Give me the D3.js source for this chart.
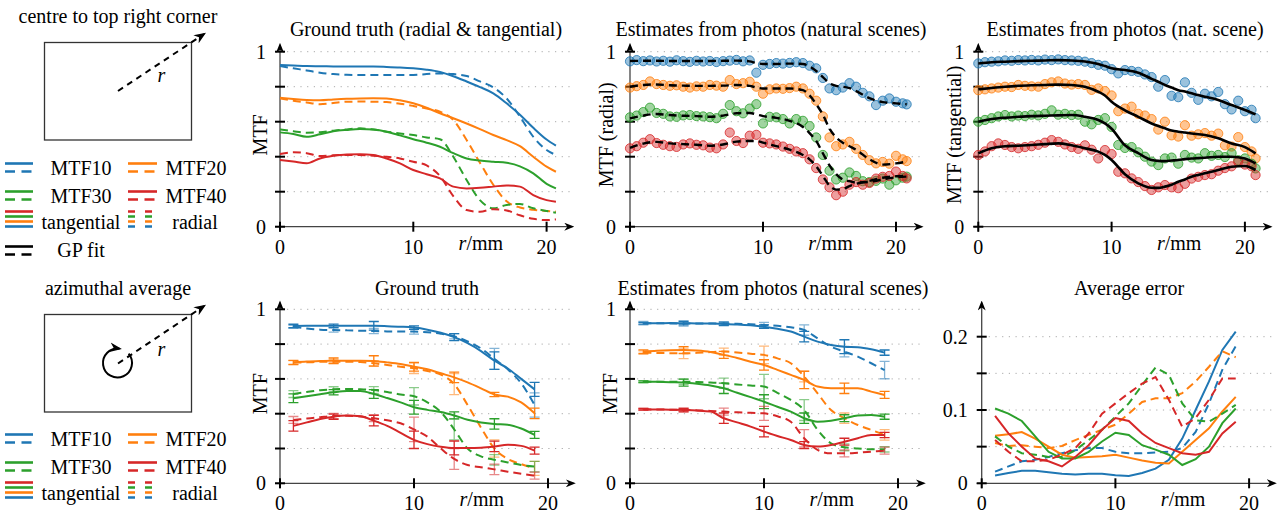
<!DOCTYPE html>
<html>
<head>
<meta charset="utf-8">
<title>MTF estimates</title>
<script src="https://cdn.jsdelivr.net/npm/d3@7"></script>
<style>
  body { margin: 0; background: #fff; }
</style>
</head>
<body>
<svg id="fig" width="1284" height="515" font-family="Liberation Serif, DejaVu Serif, serif" font-size="20"></svg>
<script>
var colours = ['#1f77b4', '#ff7f0e', '#2ca02c', '#d62728'];
var names = ['MTF10', 'MTF20', 'MTF30', 'MTF40'];
var xTicks = [0, 10, 20];

// ground truth, centre to corner
var gtR = [0,1,2,3,4,5,6,7,8,9,10,11,12,13,14,15,16,17,18,19,20,20.7];
var gtTan10 = [0.924,0.921,0.918,0.917,0.916,0.915,0.915,0.915,0.913,0.91,0.905,0.897,0.884,0.86,0.83,0.798,0.762,0.705,0.64,0.565,0.498,0.463];
var gtRad10 = [0.918,0.905,0.893,0.88,0.872,0.868,0.867,0.867,0.867,0.867,0.867,0.872,0.876,0.872,0.861,0.83,0.796,0.733,0.629,0.514,0.438,0.41];
var gtTan20 = [0.737,0.73,0.724,0.722,0.727,0.731,0.733,0.734,0.733,0.722,0.705,0.68,0.648,0.62,0.59,0.558,0.524,0.495,0.46,0.4,0.343,0.314];
var gtRad20 = [0.733,0.72,0.71,0.7,0.707,0.714,0.715,0.714,0.712,0.703,0.69,0.675,0.657,0.61,0.495,0.365,0.24,0.145,0.11,0.097,0.09,0.086];
var gtTan30 = [0.539,0.53,0.514,0.528,0.545,0.553,0.558,0.555,0.543,0.522,0.5,0.48,0.457,0.42,0.39,0.378,0.371,0.365,0.345,0.305,0.245,0.219];
var gtRad30 = [0.556,0.545,0.537,0.54,0.549,0.556,0.562,0.555,0.543,0.533,0.524,0.51,0.5,0.4,0.267,0.152,0.105,0.124,0.13,0.105,0.09,0.08];
var gtTan40 = [0.381,0.372,0.362,0.39,0.405,0.413,0.414,0.41,0.39,0.362,0.324,0.3,0.276,0.229,0.219,0.222,0.229,0.236,0.229,0.181,0.152,0.143];
var gtRad40 = [0.415,0.425,0.42,0.404,0.408,0.41,0.41,0.405,0.4,0.39,0.371,0.35,0.29,0.175,0.095,0.085,0.1,0.093,0.065,0.045,0.038,0.042];

// estimates from photos: individual estimates
var dotR = [0,0.5,1,1.5,2,2.5,3,3.5,4,4.5,5,5.5,6,6.5,7,7.5,8,8.5,9,9.5,10,10.5,11,11.5,12,12.5,13,13.5,14,14.5,15,15.5,16,16.5,17,17.5,18,18.5,19,19.5,20,20.5,20.8];
var radDots10 = [0.945,0.952,0.946,0.95,0.944,0.948,0.943,0.951,0.946,0.942,0.948,0.944,0.947,0.941,0.946,0.949,0.953,0.945,0.95,0.88,0.925,0.93,0.935,0.932,0.936,0.94,0.935,0.92,0.905,0.85,0.79,0.78,0.795,0.82,0.8,0.765,0.745,0.695,0.72,0.733,0.714,0.705,0.699];
var radDots20 = [0.795,0.803,0.81,0.83,0.815,0.81,0.805,0.808,0.8,0.795,0.802,0.8,0.81,0.806,0.8,0.838,0.815,0.82,0.828,0.8,0.76,0.785,0.79,0.788,0.792,0.8,0.79,0.76,0.72,0.63,0.51,0.46,0.47,0.485,0.445,0.41,0.38,0.362,0.37,0.36,0.405,0.385,0.375];
var radDots30 = [0.625,0.635,0.655,0.68,0.65,0.645,0.63,0.628,0.636,0.638,0.632,0.63,0.626,0.62,0.645,0.695,0.66,0.648,0.675,0.7,0.59,0.628,0.625,0.615,0.59,0.615,0.605,0.575,0.51,0.41,0.32,0.27,0.28,0.31,0.29,0.26,0.255,0.262,0.275,0.24,0.265,0.28,0.286];
var radDots40 = [0.448,0.46,0.48,0.5,0.478,0.468,0.46,0.456,0.47,0.476,0.468,0.465,0.452,0.448,0.47,0.538,0.49,0.478,0.52,0.525,0.48,0.476,0.47,0.458,0.445,0.43,0.42,0.385,0.335,0.27,0.225,0.18,0.2,0.24,0.255,0.24,0.25,0.275,0.285,0.29,0.315,0.29,0.276];
var tanDots10 = [0.933,0.94,0.943,0.945,0.95,0.948,0.952,0.95,0.953,0.95,0.955,0.952,0.956,0.952,0.95,0.948,0.943,0.935,0.925,0.92,0.9,0.876,0.895,0.89,0.885,0.87,0.855,0.8,0.838,0.748,0.74,0.825,0.765,0.725,0.76,0.745,0.77,0.7,0.67,0.72,0.66,0.668,0.62];
var tanDots20 = [0.78,0.785,0.79,0.795,0.8,0.798,0.81,0.805,0.802,0.8,0.815,0.825,0.83,0.818,0.812,0.815,0.81,0.782,0.79,0.775,0.75,0.66,0.675,0.686,0.645,0.635,0.615,0.555,0.6,0.522,0.515,0.58,0.52,0.528,0.535,0.52,0.532,0.465,0.458,0.512,0.455,0.43,0.39];
var tanDots30 = [0.6,0.61,0.62,0.63,0.638,0.63,0.635,0.632,0.64,0.636,0.645,0.665,0.64,0.645,0.638,0.64,0.6,0.585,0.61,0.62,0.57,0.467,0.45,0.455,0.425,0.4,0.372,0.352,0.39,0.395,0.36,0.41,0.395,0.39,0.42,0.405,0.41,0.398,0.42,0.38,0.39,0.36,0.333];
var tanDots40 = [0.41,0.43,0.46,0.476,0.467,0.455,0.448,0.455,0.46,0.468,0.48,0.495,0.485,0.47,0.455,0.445,0.465,0.44,0.39,0.438,0.415,0.314,0.305,0.276,0.255,0.232,0.21,0.225,0.238,0.225,0.22,0.245,0.275,0.285,0.295,0.3,0.32,0.335,0.345,0.37,0.355,0.345,0.295];

// GP fits
var fitR = [0,1,2,3,4,5,6,7,8,9,9.5,10,11,12,13,13.5,14,14.5,15,15.5,16,16.5,17,18,19,20,20.8];
var radFit10 = [0.947,0.948,0.948,0.947,0.947,0.947,0.947,0.948,0.949,0.945,0.935,0.93,0.93,0.932,0.93,0.915,0.89,0.855,0.82,0.805,0.8,0.792,0.775,0.735,0.712,0.705,0.7];
var radFit20 = [0.8,0.81,0.813,0.808,0.806,0.805,0.805,0.806,0.81,0.805,0.795,0.79,0.79,0.79,0.78,0.75,0.7,0.64,0.56,0.51,0.48,0.46,0.44,0.385,0.355,0.362,0.372];
var radFit30 = [0.619,0.635,0.644,0.638,0.634,0.632,0.628,0.635,0.648,0.65,0.642,0.632,0.622,0.605,0.57,0.535,0.49,0.42,0.35,0.3,0.27,0.26,0.252,0.256,0.27,0.282,0.286];
var radFit40 = [0.451,0.475,0.485,0.476,0.472,0.468,0.463,0.47,0.486,0.49,0.49,0.48,0.46,0.44,0.41,0.385,0.345,0.29,0.235,0.212,0.215,0.232,0.245,0.262,0.28,0.288,0.29];
var tanFit10 = [0.933,0.94,0.943,0.946,0.948,0.95,0.952,0.95,0.944,0.93,0.918,0.905,0.895,0.88,0.845,0.828,0.81,0.795,0.78,0.772,0.762,0.752,0.743,0.724,0.695,0.667,0.642];
var tanFit20 = [0.785,0.793,0.8,0.805,0.808,0.81,0.812,0.81,0.8,0.771,0.75,0.714,0.665,0.628,0.59,0.575,0.562,0.55,0.543,0.538,0.533,0.528,0.524,0.505,0.476,0.455,0.419];
var tanFit30 = [0.6,0.615,0.623,0.628,0.632,0.634,0.636,0.638,0.628,0.61,0.59,0.56,0.465,0.42,0.381,0.376,0.375,0.378,0.381,0.386,0.39,0.392,0.394,0.4,0.4,0.39,0.362];
var tanFit40 = [0.419,0.448,0.46,0.463,0.467,0.472,0.476,0.465,0.448,0.429,0.41,0.381,0.3,0.248,0.223,0.222,0.229,0.24,0.257,0.27,0.286,0.296,0.305,0.324,0.343,0.347,0.324];

// azimuthal averages
var avgR = [1,2,3,4,5,6,7,8,9,10,11,12,13,14,15,16,17,18,19];
var errR = [1,4,7,10,13,16,19];
var avgGtTan10 = [0.904,0.905,0.905,0.905,0.905,0.905,0.905,0.903,0.9,0.895,0.883,0.865,0.84,0.805,0.76,0.705,0.66,0.6,0.54];
var avgGtRad10 = [0.9,0.89,0.883,0.881,0.879,0.877,0.875,0.873,0.872,0.872,0.868,0.86,0.845,0.815,0.775,0.715,0.655,0.575,0.45];
var avgGtTan20 = [0.695,0.7,0.703,0.705,0.705,0.705,0.703,0.695,0.685,0.67,0.655,0.632,0.609,0.58,0.546,0.51,0.498,0.465,0.402];
var avgGtRad20 = [0.693,0.695,0.698,0.699,0.699,0.697,0.69,0.68,0.67,0.661,0.645,0.625,0.57,0.45,0.32,0.2,0.14,0.11,0.086];
var avgGtTan30 = [0.489,0.5,0.512,0.523,0.53,0.53,0.513,0.49,0.465,0.437,0.422,0.41,0.39,0.365,0.35,0.341,0.337,0.315,0.278];
var avgGtRad30 = [0.513,0.525,0.535,0.54,0.542,0.54,0.536,0.525,0.51,0.5,0.465,0.41,0.31,0.2,0.155,0.135,0.12,0.105,0.096];
var avgGtTan40 = [0.33,0.35,0.37,0.383,0.389,0.385,0.36,0.33,0.29,0.25,0.225,0.21,0.203,0.203,0.205,0.212,0.222,0.215,0.188];
var avgGtRad40 = [0.364,0.372,0.38,0.387,0.388,0.384,0.374,0.362,0.345,0.31,0.268,0.2,0.14,0.105,0.092,0.08,0.067,0.055,0.044];
var avgGtTanErr10 = [0.01,0.01,0.025,0.01,0.02,0.05,0.04];
var avgGtRadErr10 = [0.008,0.012,0.015,0.015,0.015,0.06,0.07];
var avgGtTanErr20 = [0.012,0.015,0.03,0.025,0.03,0.012,0.03];
var avgGtRadErr20 = [0.012,0.012,0.015,0.03,0.06,0.05,0.04];
var avgGtTanErr30 = [0.025,0.015,0.025,0.04,0.02,0.03,0.02];
var avgGtRadErr30 = [0.02,0.015,0.02,0.05,0.06,0.03,0.03];
var avgGtTanErr40 = [0.03,0.015,0.03,0.05,0.04,0.03,0.02];
var avgGtRadErr40 = [0.02,0.015,0.02,0.07,0.06,0.03,0.02];

var avgEstTan10 = [0.92,0.92,0.921,0.92,0.919,0.918,0.916,0.913,0.908,0.9,0.888,0.872,0.843,0.814,0.795,0.785,0.782,0.77,0.751];
var avgEstRad10 = [0.92,0.92,0.919,0.918,0.918,0.918,0.918,0.917,0.914,0.91,0.905,0.897,0.881,0.833,0.785,0.757,0.728,0.69,0.651];
var avgEstTan20 = [0.757,0.762,0.765,0.766,0.763,0.755,0.738,0.72,0.699,0.68,0.652,0.623,0.594,0.556,0.546,0.546,0.546,0.527,0.508];
var avgEstRad20 = [0.751,0.749,0.748,0.747,0.75,0.754,0.757,0.752,0.745,0.738,0.718,0.69,0.613,0.517,0.421,0.374,0.335,0.307,0.278];
var avgEstTan30 = [0.584,0.583,0.581,0.579,0.572,0.562,0.546,0.52,0.495,0.469,0.44,0.412,0.374,0.354,0.36,0.374,0.389,0.393,0.383];
var avgEstRad30 = [0.584,0.584,0.584,0.584,0.582,0.579,0.575,0.568,0.562,0.556,0.52,0.479,0.421,0.307,0.23,0.207,0.2,0.195,0.195];
var avgEstTan40 = [0.425,0.424,0.423,0.421,0.418,0.412,0.374,0.35,0.326,0.297,0.272,0.249,0.22,0.211,0.22,0.239,0.259,0.278,0.278];
var avgEstRad40 = [0.425,0.424,0.423,0.422,0.419,0.416,0.412,0.408,0.405,0.402,0.385,0.354,0.259,0.192,0.172,0.172,0.176,0.182,0.188];
var avgEstTanErr10 = [0.005,0.01,0.01,0.01,0.03,0.04,0.015];
var avgEstRadErr10 = [0.01,0.015,0.01,0.015,0.03,0.03,0.05];
var avgEstTanErr20 = [0.01,0.02,0.02,0.03,0.05,0.03,0.02];
var avgEstRadErr20 = [0.01,0.03,0.02,0.05,0.03,0.03,0.03];
var avgEstTanErr30 = [0.005,0.02,0.03,0.04,0.03,0.02,0.015];
var avgEstRadErr30 = [0.005,0.015,0.03,0.07,0.06,0.02,0.015];
var avgEstTanErr40 = [0.005,0.01,0.03,0.03,0.02,0.02,0.015];
var avgEstRadErr40 = [0.005,0.01,0.02,0.04,0.05,0.02,0.02];

// average error
var errTan10 = [0.0105,0.014,0.017,0.017,0.015,0.013,0.012,0.013,0.013,0.011,0.01,0.014,0.02,0.032,0.061,0.1,0.139,0.182,0.207];
var errRad10 = [0.016,0.023,0.03,0.032,0.036,0.041,0.045,0.048,0.048,0.043,0.041,0.041,0.042,0.043,0.048,0.07,0.109,0.155,0.187];
var errTan20 = [0.065,0.067,0.07,0.061,0.05,0.039,0.035,0.036,0.037,0.039,0.035,0.031,0.028,0.027,0.043,0.059,0.075,0.098,0.118];
var errRad20 = [0.055,0.051,0.052,0.05,0.048,0.051,0.059,0.066,0.073,0.08,0.095,0.111,0.116,0.116,0.123,0.139,0.159,0.18,0.172];
var errTan30 = [0.102,0.095,0.085,0.064,0.043,0.034,0.034,0.043,0.057,0.069,0.066,0.052,0.046,0.039,0.025,0.033,0.05,0.082,0.102];
var errRad30 = [0.064,0.05,0.041,0.039,0.036,0.036,0.045,0.059,0.073,0.091,0.109,0.134,0.158,0.148,0.109,0.086,0.084,0.095,0.107];
var errTan40 = [0.092,0.068,0.05,0.034,0.03,0.023,0.036,0.052,0.073,0.089,0.085,0.068,0.055,0.048,0.041,0.039,0.043,0.068,0.084];
var errRad40 = [0.059,0.043,0.03,0.03,0.032,0.039,0.048,0.068,0.095,0.109,0.123,0.136,0.145,0.114,0.077,0.089,0.114,0.143,0.143];

var svg = d3.select('#fig');
var defs = svg.append('defs');
defs.append('marker').attr('id', 'arr').attr('viewBox', '0 0 10 8').attr('refX', 8).attr('refY', 4)
  .attr('markerWidth', 10).attr('markerHeight', 8).attr('markerUnits', 'userSpaceOnUse').attr('orient', 'auto')
  .append('path').attr('d', 'M0,0 L10,4 L0,8 L3,4 Z').attr('fill', '#000');
defs.append('marker').attr('id', 'arrBig').attr('viewBox', '0 0 10 8').attr('refX', 8).attr('refY', 4)
  .attr('markerWidth', 12).attr('markerHeight', 10).attr('markerUnits', 'userSpaceOnUse').attr('orient', 'auto')
  .append('path').attr('d', 'M0,0 L10,4 L0,8 L3,4 Z').attr('fill', '#000');

function panel(p) {
  var x = d3.scaleLinear().domain([0, 22]).range([p.left, p.left + 22 * p.k]);
  var y = d3.scaleLinear().domain([0, p.ymax]).range([p.bottom, p.top]);
  var g = svg.append('g');
  g.selectAll(null).data(p.yticks.filter(function(t){ return t > 0; })).enter().append('line')
    .attr('x1', x(0) + 7).attr('x2', x(21.8))
    .attr('y1', function(d){ return y(d); }).attr('y2', function(d){ return y(d); })
    .attr('stroke', '#aaa').attr('stroke-width', 1).attr('stroke-dasharray', '1.2,5.5');
  g.append('line').attr('x1', x(0) - 5).attr('x2', x(22) - 1).attr('y1', y(0)).attr('y2', y(0))
    .attr('stroke', '#444').attr('stroke-width', 1.3).attr('marker-end', 'url(#arr)');
  g.append('line').attr('x1', x(0)).attr('x2', x(0)).attr('y1', y(0) + 5).attr('y2', y(p.ytop) + 1)
    .attr('stroke', '#444').attr('stroke-width', 1.3).attr('marker-end', 'url(#arr)');
  g.selectAll(null).data(p.yticks).enter().append('line')
    .attr('x1', x(0) - 5).attr('x2', x(0) + 5)
    .attr('y1', function(d){ return y(d); }).attr('y2', function(d){ return y(d); })
    .attr('stroke', '#000').attr('stroke-width', 2);
  g.selectAll(null).data(xTicks).enter().append('line')
    .attr('x1', function(d){ return x(d); }).attr('x2', function(d){ return x(d); })
    .attr('y1', y(0) - 5).attr('y2', y(0) + 5)
    .attr('stroke', '#000').attr('stroke-width', 2);
  g.selectAll(null).data(p.ylabels).enter().append('text')
    .attr('x', x(0) - 14).attr('y', function(d){ return y(d) + 7; })
    .attr('text-anchor', 'end').text(p.fmt);
  g.selectAll(null).data(xTicks).enter().append('text')
    .attr('x', function(d){ return x(d); }).attr('y', y(0) + 27)
    .attr('text-anchor', 'middle').text(function(d){ return d; });
  var lab = g.append('text').attr('x', x(13.4)).attr('y', y(0) + 23);
  lab.append('tspan').attr('font-style', 'italic').text('r');
  lab.append('tspan').text('/mm');
  g.append('text').attr('x', p.titleX).attr('y', p.titleY).attr('text-anchor', 'middle').text(p.title);
  if (p.ylabel) {
    g.append('text')
      .attr('transform', 'translate(' + (x(0) - p.ylabOff) + ',' + y(p.ymax * p.ylabAt) + ') rotate(-90)')
      .attr('text-anchor', 'middle').text(p.ylabel);
  }
  return { g: g, x: x, y: y };
}

function drawLine(pl, rs, vs, colour, dashed, curve, width) {
  var line = d3.line()
    .x(function(d, i){ return pl.x(rs[i]); })
    .y(function(d){ return pl.y(d); })
    .curve(curve || d3.curveMonotoneX);
  pl.g.append('path').datum(vs).attr('d', line).attr('fill', 'none')
    .attr('stroke', colour).attr('stroke-width', width || 2)
    .attr('stroke-dasharray', dashed ? '8,5' : null);
}

function drawDots(pl, rs, vs, colour) {
  pl.g.selectAll(null).data(vs).enter().append('circle')
    .attr('cx', function(d, i){ return pl.x(rs[i]); })
    .attr('cy', function(d){ return pl.y(d); })
    .attr('r', 4.6)
    .attr('fill', colour).attr('fill-opacity', 0.45)
    .attr('stroke', colour).attr('stroke-opacity', 0.8).attr('stroke-width', 1);
}

function drawErr(pl, vs, es, colour, op) {
  pl.g.selectAll(null).data(errR).enter().append('path')
    .attr('d', function(r, i){
      var v = vs[avgR.indexOf(r)];
      var cx = pl.x(r), y1 = pl.y(v - es[i]), y2 = pl.y(v + es[i]);
      return 'M' + (cx - 5) + ',' + y1 + 'H' + (cx + 5) + 'M' + cx + ',' + y1 + 'V' + y2 + 'M' + (cx - 5) + ',' + y2 + 'H' + (cx + 5);
    })
    .attr('fill', 'none').attr('stroke', colour).attr('stroke-width', 1.3).attr('stroke-opacity', op);
}

var mtfTicks = [0, 0.2, 0.4, 0.6, 0.8, 1];
var fmt01 = function(d){ return d; };

// top row
var p1 = panel({ left: 280, k: 13.33, bottom: 226.7, top: 51.7, ymax: 1, ytop: 1.045, yticks: mtfTicks, ylabels: [0, 1], fmt: fmt01,
  title: 'Ground truth (radial & tangential)', titleX: 426, titleY: 36, ylabel: 'MTF', ylabOff: 13.5, ylabAt: 0.525 });
var p2 = panel({ left: 630, k: 13.3, bottom: 226.7, top: 51.7, ymax: 1, ytop: 1.045, yticks: mtfTicks, ylabels: [0, 1], fmt: fmt01,
  title: 'Estimates from photos (natural scenes)', titleX: 771, titleY: 36, ylabel: 'MTF (radial)', ylabOff: 17, ylabAt: 0.525 });
var p3 = panel({ left: 978.3, k: 13.33, bottom: 226.7, top: 51.7, ymax: 1, ytop: 1.045, yticks: mtfTicks, ylabels: [0, 1], fmt: fmt01,
  title: 'Estimates from photos (nat. scene)', titleX: 1125, titleY: 36, ylabel: 'MTF (tangential)', ylabOff: 17.5, ylabAt: 0.525 });
// bottom row
var p4 = panel({ left: 280, k: 13.4, bottom: 483.3, top: 309.3, ymax: 1, ytop: 1.045, yticks: mtfTicks, ylabels: [0, 1], fmt: fmt01,
  title: 'Ground truth', titleX: 427, titleY: 294.5, ylabel: 'MTF', ylabOff: 13.3, ylabAt: 0.515 });
var p5 = panel({ left: 630, k: 13.4, bottom: 483.3, top: 309.3, ymax: 1, ytop: 1.045, yticks: mtfTicks, ylabels: [0, 1], fmt: fmt01,
  title: 'Estimates from photos (natural scenes)', titleX: 773, titleY: 294.5, ylabel: 'MTF', ylabOff: 13.3, ylabAt: 0.515 });
var p6 = panel({ left: 981.7, k: 13.37, bottom: 483.3, top: 336.7, ymax: 0.2, ytop: 0.248, yticks: [0, 0.05, 0.1, 0.15, 0.2], ylabels: [0, 0.1, 0.2],
  fmt: function(d){ return d === 0 ? '0' : d.toFixed(1); },
  title: 'Average error', titleX: 1129, titleY: 294.5 });

var gtTan = [gtTan10, gtTan20, gtTan30, gtTan40], gtRad = [gtRad10, gtRad20, gtRad30, gtRad40];
var radDots = [radDots10, radDots20, radDots30, radDots40], tanDots = [tanDots10, tanDots20, tanDots30, tanDots40];
var radFit = [radFit10, radFit20, radFit30, radFit40], tanFit = [tanFit10, tanFit20, tanFit30, tanFit40];
var aGtTan = [avgGtTan10, avgGtTan20, avgGtTan30, avgGtTan40], aGtRad = [avgGtRad10, avgGtRad20, avgGtRad30, avgGtRad40];
var aGtTanE = [avgGtTanErr10, avgGtTanErr20, avgGtTanErr30, avgGtTanErr40], aGtRadE = [avgGtRadErr10, avgGtRadErr20, avgGtRadErr30, avgGtRadErr40];
var aEsTan = [avgEstTan10, avgEstTan20, avgEstTan30, avgEstTan40], aEsRad = [avgEstRad10, avgEstRad20, avgEstRad30, avgEstRad40];
var aEsTanE = [avgEstTanErr10, avgEstTanErr20, avgEstTanErr30, avgEstTanErr40], aEsRadE = [avgEstRadErr10, avgEstRadErr20, avgEstRadErr30, avgEstRadErr40];
var eTan = [errTan10, errTan20, errTan30, errTan40], eRad = [errRad10, errRad20, errRad30, errRad40];

colours.forEach(function(c, i){
  drawLine(p1, gtR, gtTan[i], c, false);
  drawLine(p1, gtR, gtRad[i], c, true);
});
colours.forEach(function(c, i){ drawDots(p2, dotR, radDots[i], c); });
colours.forEach(function(c, i){ drawLine(p2, fitR, radFit[i], '#000', true, null, 2.4); });
colours.forEach(function(c, i){ drawDots(p3, dotR, tanDots[i], c); });
colours.forEach(function(c, i){ drawLine(p3, fitR, tanFit[i], '#000', false, null, 2.6); });
colours.forEach(function(c, i){
  drawLine(p4, avgR, aGtRad[i], c, true);
  drawLine(p4, avgR, aGtTan[i], c, false);
  drawErr(p4, aGtRad[i], aGtRadE[i], c, 0.55);
  drawErr(p4, aGtTan[i], aGtTanE[i], c, 1);
  drawLine(p5, avgR, aEsRad[i], c, true);
  drawLine(p5, avgR, aEsTan[i], c, false);
  drawErr(p5, aEsRad[i], aEsRadE[i], c, 0.55);
  drawErr(p5, aEsTan[i], aEsTanE[i], c, 1);
  drawLine(p6, avgR, eRad[i], c, true, d3.curveLinear);
  drawLine(p6, avgR, eTan[i], c, false, d3.curveLinear);
});

// left-hand sketches and legends
function sketch(dy, title, withCircle) {
  var g = svg.append('g');
  g.append('text').attr('x', 118).attr('y', dy + 23).attr('text-anchor', 'middle').text(title);
  g.append('rect').attr('x', 44.5).attr('y', dy + 42.5).attr('width', 147).attr('height', 97.5)
    .attr('fill', 'none').attr('stroke', '#333').attr('stroke-width', 1.3);
  var cy = withCircle ? 91.5 : 91;
  g.append('line').attr('x1', 118).attr('y1', dy + cy).attr('x2', 204).attr('y2', dy + 34)
    .attr('stroke', '#000').attr('stroke-width', 2).attr('stroke-dasharray', '6,5').attr('marker-end', 'url(#arrBig)');
  g.append('text').attr('x', 161.5).attr('y', dy + (withCircle ? 84 : 82)).attr('text-anchor', 'middle')
    .attr('font-style', 'italic').text('r');
  if (withCircle) {
    var cx = 117.5, ccy = dy + 91, rad = 14.5;
    var a0 = -40 * Math.PI / 180, a1 = -82 * Math.PI / 180;
    g.append('path')
      .attr('d', 'M' + (cx + rad * Math.cos(a0)) + ',' + (ccy + rad * Math.sin(a0)) +
        'A' + rad + ',' + rad + ' 0 1 1 ' + (cx + rad * Math.cos(a1)) + ',' + (ccy + rad * Math.sin(a1)))
      .attr('fill', 'none').attr('stroke', '#000').attr('stroke-width', 2).attr('marker-end', 'url(#arrBig)');
  }
}

function legend(dy, withFit) {
  var g = svg.append('g');
  var cols = [{ x1: 5, x2: 33, tx: 81 }, { x1: 128, x2: 157, tx: 196 }];
  var rows = [163.5, 191.5];
  names.forEach(function(n, i){
    var c = cols[i % 2], ry = rows[Math.floor(i / 2)] + dy;
    g.append('line').attr('x1', c.x1).attr('x2', c.x2).attr('y1', ry).attr('y2', ry)
      .attr('stroke', colours[i]).attr('stroke-width', 2.6);
    g.append('line').attr('x1', c.x1).attr('x2', c.x2).attr('y1', ry + 8).attr('y2', ry + 8)
      .attr('stroke', colours[i]).attr('stroke-width', 2.6).attr('stroke-dasharray', '10,6.5');
    g.append('text').attr('x', c.tx).attr('y', ry + 11).attr('text-anchor', 'middle').text(n);
  });
  var stackY = [211.5, 216.5, 221.5, 226.5];
  var stackC = [colours[3], colours[2], colours[1], colours[0]];
  stackY.forEach(function(sy, i){
    g.append('line').attr('x1', 5).attr('x2', 33).attr('y1', sy + dy).attr('y2', sy + dy)
      .attr('stroke', stackC[i]).attr('stroke-width', 2.6);
    g.append('line').attr('x1', 128).attr('x2', 152).attr('y1', sy + dy).attr('y2', sy + dy)
      .attr('stroke', stackC[i]).attr('stroke-width', 2.6).attr('stroke-dasharray', '7,10');
  });
  g.append('text').attr('x', 81).attr('y', dy + 228.5).attr('text-anchor', 'middle').text('tangential');
  g.append('text').attr('x', 195).attr('y', dy + 228.5).attr('text-anchor', 'middle').text('radial');
  if (withFit) {
    g.append('line').attr('x1', 5).attr('x2', 33).attr('y1', dy + 246.5).attr('y2', dy + 246.5)
      .attr('stroke', '#000').attr('stroke-width', 2.6);
    g.append('line').attr('x1', 5).attr('x2', 33).attr('y1', dy + 254.5).attr('y2', dy + 254.5)
      .attr('stroke', '#000').attr('stroke-width', 2.6).attr('stroke-dasharray', '10,6.5');
    g.append('text').attr('x', 81).attr('y', dy + 257).attr('text-anchor', 'middle').text('GP fit');
  }
}

sketch(0, 'centre to top right corner', false);
legend(0, true);
sketch(272, 'azimuthal average', true);
legend(271, false);
</script>
</body>
</html>
